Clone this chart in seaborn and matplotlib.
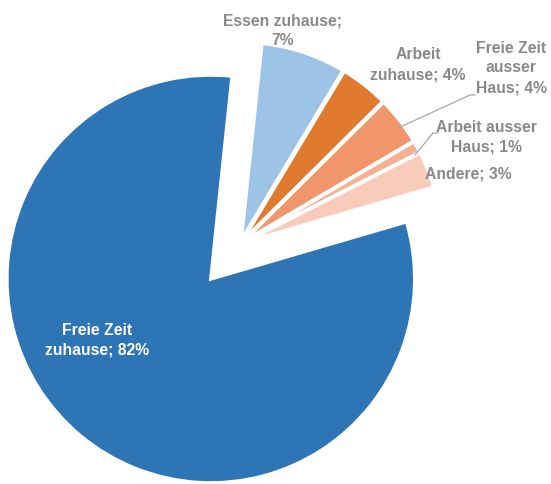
import matplotlib
matplotlib.use("Agg")
import matplotlib.pyplot as plt
import seaborn as sns

# Data
categories = ["Essen zuhause", "Arbeit zuhause", "Freie Zeit ausser Haus",
              "Arbeit ausser Haus", "Andere", "Freie Zeit zuhause"]
values = [7, 4, 4, 1, 3, 82]
label_texts = ["Essen zuhause;\n7%", "Arbeit\nzuhause; 4%", "Freie Zeit\nausser\nHaus; 4%",
               "Arbeit ausser\nHaus; 1%", "Andere; 3%", "Freie Zeit\nzuhause; 82%"]

colors = ["#9DC3E6", "#E07A2F", "#F0966A", "#F4B194", "#F8CBBA", "#2E75B6"]
explode = [0.02, 0.02, 0.02, 0.02, 0.02, 0.23]

sns.set_theme(style="white")
plt.rcParams['font.family'] = ['Liberation Sans', 'DejaVu Sans']

fig = plt.figure(figsize=(5.51, 4.84), dpi=100)
ax = fig.add_axes([0, 0, 1, 1])

wedges, _ = ax.pie(values, colors=colors, explode=explode, startangle=84,
                   counterclock=False, radius=1.0,
                   wedgeprops=dict(edgecolor="white", linewidth=2.5))
wedges[-1].set_radius(1.03)

ax.set_xlim(-240 / 198, (551 - 240) / 198)
ax.set_ylim(-(484 - 244) / 198, 244 / 198)
ax.set_aspect("equal")
ax.axis("off")

gray = "#898989"
pos = [(0.217, 1.076), (0.899, 0.905), (1.369, 0.889), (1.247, 0.540),
       (1.152, 0.354), (-0.722, -0.485)]
for i, (txt, (x, y)) in enumerate(zip(label_texts, pos)):
    col = "white" if i == 5 else gray
    ax.text(x, y, txt, ha="center", va="center", color=col, fontsize=11.3,
            fontweight="bold", linespacing=1.4)

def px(p):
    return ((p[0] - 240) / 198, (244 - p[1]) / 198)

for pts in [[(398, 128), (470, 95), (475, 95)], [(415, 155), (433, 133), (438, 133)]]:
    xs, ys = zip(*[px(p) for p in pts])
    ax.plot(xs, ys, color="#A6A6A6", lw=0.9)

fig.savefig("out.png", dpi=100)
